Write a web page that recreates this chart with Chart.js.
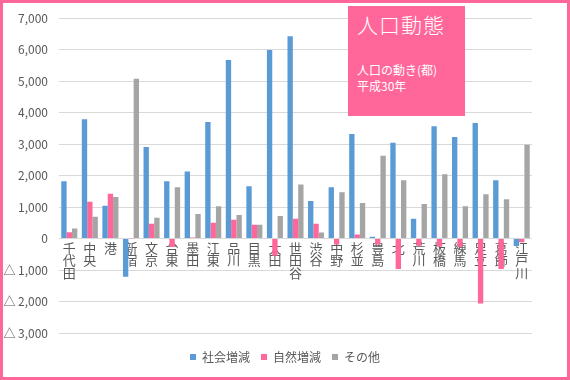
<!DOCTYPE html>
<html>
<head>
<meta charset="utf-8">
<script src="https://cdn.jsdelivr.net/npm/chart.js@4/dist/chart.umd.min.js"></script>
<style>
  html, body { margin: 0; padding: 0; background: #ffffff; }
  #wrap { position: relative; width: 570px; height: 380px; overflow: hidden; }
  #c { position: absolute; left: 0; top: 0; }
  #frame { position: absolute; left: 0; top: 0; width: 570px; height: 380px; box-sizing: border-box; border: 3px solid #FF6699; pointer-events: none; }
  #titlebox { position: absolute; left: 348px; top: 6px; width: 117px; height: 110px; background: #FF6699; color: #ffffff; font-family: "Noto Sans CJK JP Light", "Noto Sans CJK JP DemiLight", "Noto Sans CJK JP", sans-serif; }
  #titlebox .t { position: absolute; left: 9px; top: 3px; font-size: 21px; font-weight: 300; letter-spacing: 1px; white-space: nowrap; }
  #titlebox .s { position: absolute; left: 9px; top: 56px; font-size: 12px; line-height: 16px; white-space: nowrap; font-family: "Noto Sans CJK JP", sans-serif; }
</style>
</head>
<body>
<div id="wrap">
  <canvas id="c" width="570" height="380"></canvas>
  <div id="titlebox"><div class="t">人口動態</div><div class="s">人口の動き(都)<br>平成30年</div></div>
  <div id="frame"></div>
</div>
<script>
const categories = ['千代田','中央','港','新宿','文京','台東','墨田','江東','品川','目黒','大田','世田谷','渋谷','中野','杉並','豊島','北','荒川','板橋','練馬','足立','葛飾','江戸川'];
const socialChange = [1820, 3790, 1040, -1210, 2910, 1820, 2130, 3700, 5670, 1660, 5990, 6430, 1190, 1630, 3320, 60, 3040, 630, 3570, 3230, 3670, 1850, -240];
const naturalChange = [200, 1170, 1420, 10, 470, -270, 30, 500, 600, 440, -550, 630, 470, -190, 130, -190, -970, -230, -260, -270, -2060, -970, -120];
const otherChange = [320, 690, 1320, 5080, 660, 1630, 780, 1030, 750, 440, 720, 1720, 190, 1470, 1130, 2630, 1850, 1100, 2040, 1030, 1410, 1250, 2980];
const seriesNames = ['社会増減', '自然増減', 'その他'];
const yMin = -3000, yMax = 7000, yStep = 1000;

const FONT = '"Noto Sans CJK JP", "Noto Sans", sans-serif';
const fmt = v => Math.abs(v).toLocaleString('en-US');

new Chart(document.getElementById('c'), {
  type: 'bar',
  data: {
    labels: categories.map(s => Array.from(s)),
    datasets: [
      { label: seriesNames[0], data: socialChange, backgroundColor: '#5B9BD5' },
      { label: seriesNames[1], data: naturalChange, backgroundColor: '#FF6699' },
      { label: seriesNames[2], data: otherChange, backgroundColor: '#A5A5A5' }
    ]
  },
  options: {
    responsive: false,
    animation: false,
    datasets: { bar: { categoryPercentage: 0.78, barPercentage: 1.0 } },
    layout: { padding: { left: 0, right: 0, top: 3, bottom: 7 } },
    plugins: {
      legend: {
        position: 'bottom',
        title: { display: true, text: '', font: { size: 1, lineHeight: 1 }, padding: { top: 6, bottom: 0 } },
        labels: { boxWidth: 6, boxHeight: 6, padding: 11, color: '#595959', font: { family: FONT, size: 12 } }
      },
      tooltip: { enabled: false }
    },
    scales: {
      x: {
        position: { y: 0 },
        grid: { display: false, drawTicks: false },
        border: { display: false },
        ticks: { autoSkip: false, maxRotation: 0, minRotation: 0, padding: 3, color: '#595959', font: { family: FONT, size: 13, lineHeight: 0.96 } },
        afterFit: s => { s.height = 0; }
      },
      y: {
        min: yMin, max: yMax,
        grid: { color: '#D9D9D9', drawTicks: false },
        border: { display: false },
        ticks: {
          stepSize: yStep, padding: 11, color: '#595959',
          font: { family: FONT, size: 12 },
          callback: v => v < 0 ? '△\u2009' + fmt(v) : fmt(v)
        },
        afterFit: s => { s.width = 59; }
      },
      yRight: {
        position: 'right',
        grid: { display: false, drawTicks: false },
        border: { display: false },
        ticks: { display: false },
        afterFit: s => { s.width = 38; }
      }
    }
  }
});
</script>
</body>
</html>
